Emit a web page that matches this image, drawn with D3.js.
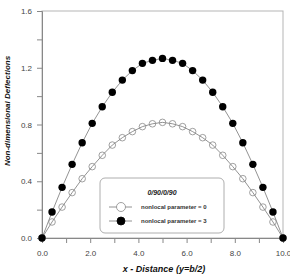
<!DOCTYPE html>
<html>
<head>
<meta charset="utf-8">
<script src="https://cdn.jsdelivr.net/npm/d3@7"></script>
<style>
  body { margin: 0; background: #fff; }
  text { font-family: "Liberation Sans", Arial, sans-serif; }
</style>
</head>
<body>
<div id="chart"></div>
<script>
// x positions (b/24 steps)
const xs = d3.range(25).map(i => i * 10 / 24);
// nonlocal parameter = 0 (open circles)
const open0 = [0, 0.113, 0.218, 0.32, 0.418, 0.503, 0.583, 0.655, 0.707, 0.75, 0.785, 0.805, 0.815,
  0.805, 0.785, 0.75, 0.707, 0.655, 0.583, 0.503, 0.418, 0.32, 0.218, 0.113, 0];
// nonlocal parameter = 3 (filled circles)
const filled3 = [0, 0.183, 0.357, 0.519, 0.671, 0.808, 0.925, 1.027, 1.113, 1.180, 1.231, 1.252, 1.266,
  1.252, 1.231, 1.180, 1.113, 1.027, 0.925, 0.808, 0.671, 0.519, 0.357, 0.183, 0];
const xTicks = [0, 2, 4, 6, 8, 10];
const yTicks = [0, 0.4, 0.8, 1.2, 1.6];

const W = 290, H = 276;
const margin = { top: 11, right: 7, bottom: 38, left: 42 };
const width = W - margin.left - margin.right;
const height = H - margin.top - margin.bottom;

const svg = d3.select('#chart').append('svg')
  .attr('width', W).attr('height', H);
const g = svg.append('g')
  .attr('transform', 'translate(' + margin.left + ',' + margin.top + ')');

const x = d3.scaleLinear().domain([0, 10]).range([0, width]);
const y = d3.scaleLinear().domain([0, 1.6]).range([height, 0]);

// frame
g.append('rect')
  .attr('width', width).attr('height', height)
  .attr('fill', 'none').attr('stroke', '#b5b5b5').attr('stroke-width', 1);

const xAxis = d3.axisBottom(x)
  .tickValues(d3.range(0, 11, 1))
  .tickSize(5)
  .tickFormat(d => xTicks.includes(d) ? d3.format('.1f')(d) : '');
const yAxis = d3.axisLeft(y)
  .tickValues(d3.range(0, 1.61, 0.2))
  .tickSize(5)
  .tickFormat(d => yTicks.some(t => Math.abs(t - d) < 1e-6) ? d3.format('.1f')(d) : '');

const gx = g.append('g').attr('transform', 'translate(0,' + height + ')').call(xAxis);
const gy = g.append('g').call(yAxis);
[gx, gy].forEach(a => {
  a.select('.domain').attr('stroke', '#888');
  a.selectAll('.tick line').attr('stroke', '#888');
  a.selectAll('.tick text').attr('fill', '#444').style('font-size', '8px');
});
gx.selectAll('.tick text').attr('dy', '1.3em');
gy.selectAll('.tick text').attr('dx', '-2');

const line = d3.line().x((d, i) => x(xs[i])).y(d => y(d));

g.append('path').datum(open0)
  .attr('d', line).attr('fill', 'none').attr('stroke', '#777').attr('stroke-width', 0.8);
g.append('path').datum(filled3)
  .attr('d', line).attr('fill', 'none').attr('stroke', '#777').attr('stroke-width', 0.8);

g.selectAll('.open').data(open0).enter().append('circle')
  .attr('class', 'open')
  .attr('cx', (d, i) => x(xs[i])).attr('cy', d => y(d))
  .attr('r', 3.3).attr('fill', 'none').attr('stroke', '#888').attr('stroke-width', 0.8);
g.selectAll('.filled').data(filled3).enter().append('circle')
  .attr('class', 'filled')
  .attr('cx', (d, i) => x(xs[i])).attr('cy', d => y(d))
  .attr('r', 3.7).attr('fill', '#000');

// legend
const lg = svg.append('g').attr('transform', 'translate(100,178)');
lg.append('rect')
  .attr('width', 124).attr('height', 55).attr('rx', 5).attr('ry', 5)
  .attr('fill', '#fff').attr('stroke', '#999').attr('stroke-width', 0.8);
lg.append('text')
  .attr('x', 62).attr('y', 17).attr('text-anchor', 'middle')
  .style('font-size', '7px').style('font-style', 'italic').style('font-weight', 'bold')
  .attr('fill', '#222')
  .text('0/90/0/90');
const items = [
  { label: 'nonlocal parameter = 0', fill: '#fff', stroke: '#888', r: 4.5 },
  { label: 'nonlocal parameter = 3', fill: '#000', stroke: '#000', r: 4 }
];
items.forEach((it, k) => {
  const yy = 29 + k * 14;
  lg.append('line').attr('x1', 9).attr('x2', 32).attr('y1', yy).attr('y2', yy)
    .attr('stroke', '#777').attr('stroke-width', 0.8);
  lg.append('circle').attr('cx', 21).attr('cy', yy).attr('r', it.r)
    .attr('fill', it.fill).attr('stroke', it.stroke).attr('stroke-width', 0.8);
  lg.append('text').attr('x', 41).attr('y', yy + 2.3)
    .style('font-size', '6px').style('font-weight', 'bold').attr('fill', '#333')
    .text(it.label);
});

// axis titles
svg.append('text')
  .attr('x', 164).attr('y', 272).attr('text-anchor', 'middle')
  .style('font-size', '9px').style('font-weight', 'bold').style('font-style', 'italic')
  .attr('fill', '#111')
  .text('x - Distance (y=b/2)');
svg.append('text')
  .attr('transform', 'translate(10,111) rotate(-90)')
  .attr('text-anchor', 'middle')
  .style('font-size', '8px').style('font-weight', 'bold').style('font-style', 'italic')
  .attr('fill', '#111')
  .text('Non-dimensional  Deflections');
</script>
</body>
</html>
